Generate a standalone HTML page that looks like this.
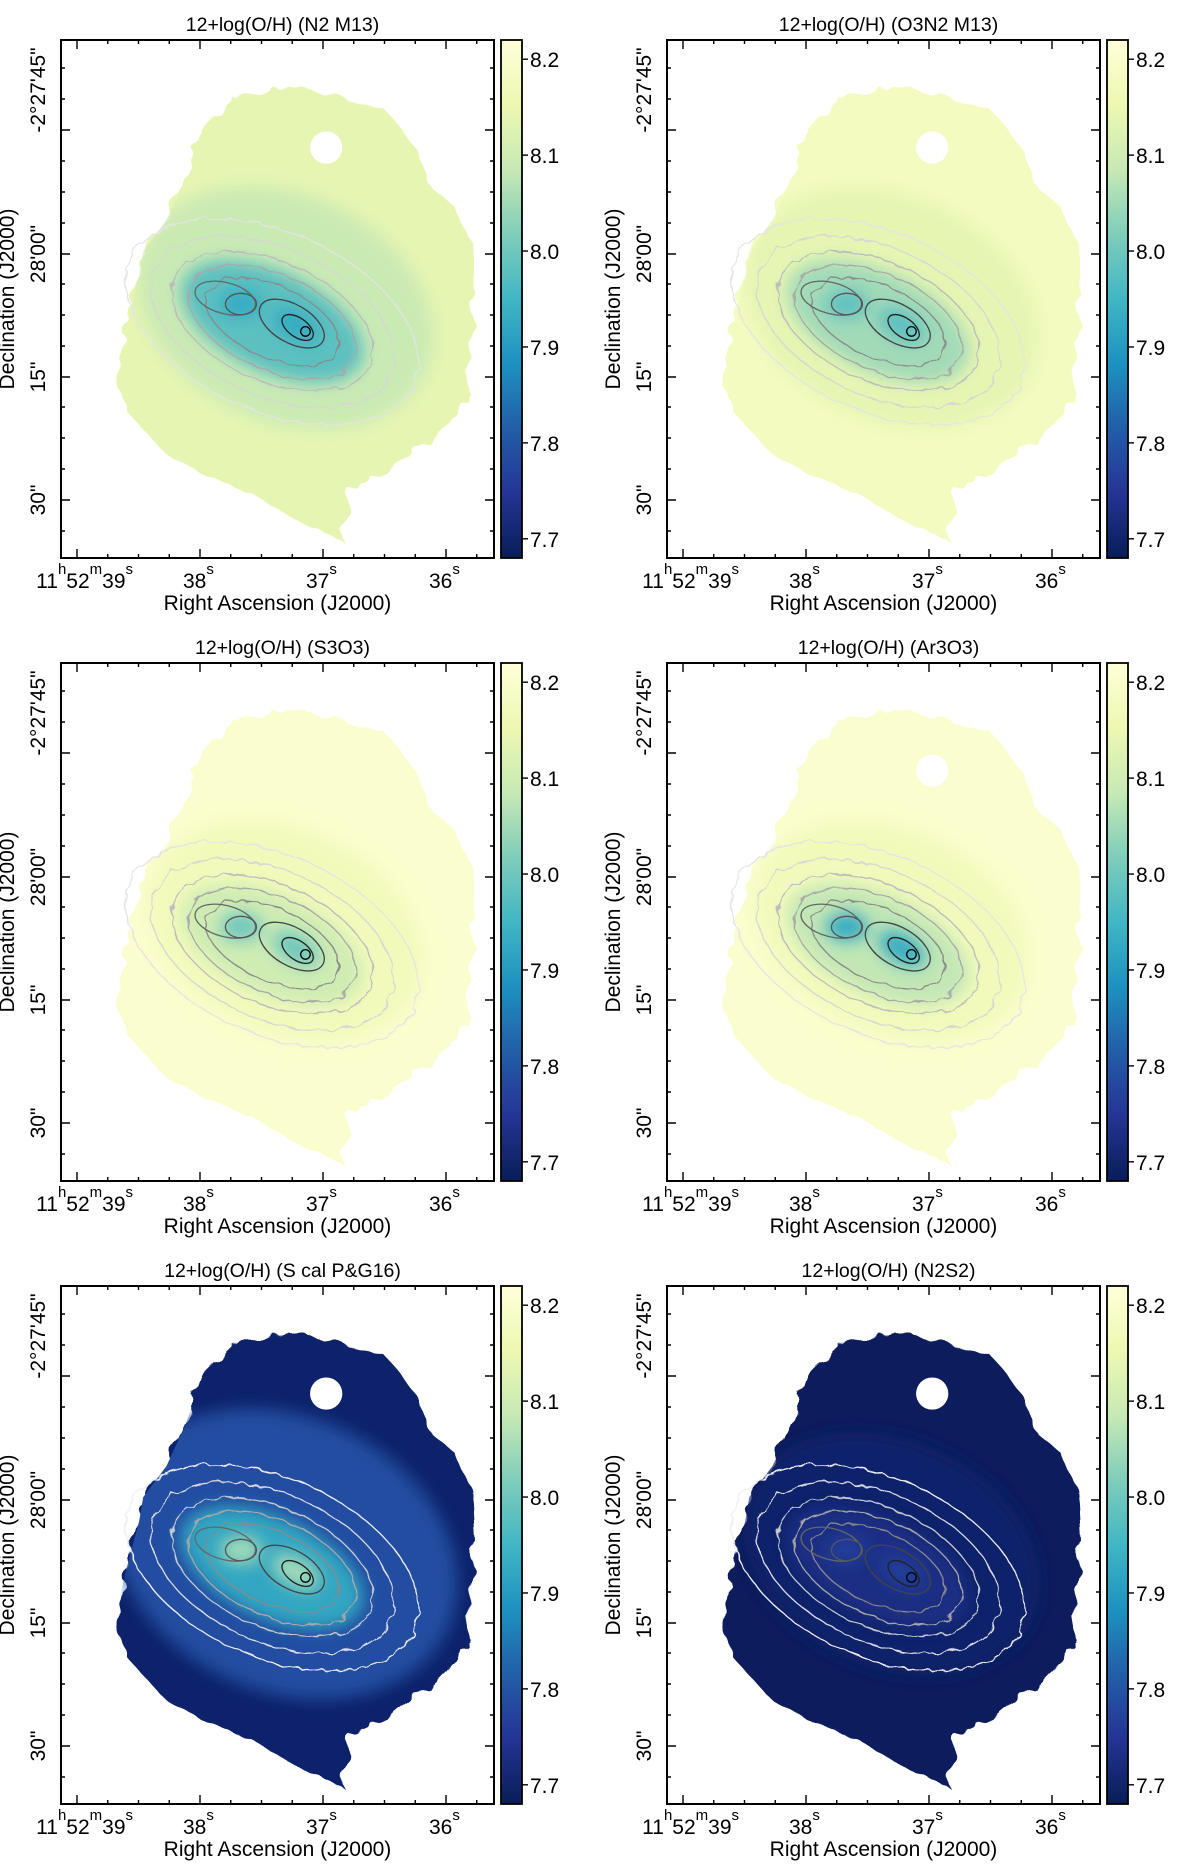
<!DOCTYPE html>
<html><head><meta charset="utf-8">
<style>
html,body{margin:0;padding:0;background:#fff;}
svg{display:block;font-family:"Liberation Sans",Arial,sans-serif;}
</style></head>
<body>
<svg id="fig" width="1200" height="1865" viewBox="0 0 1200 1865" xmlns="http://www.w3.org/2000/svg">
<defs>
<linearGradient id="cmap" x1="0" y1="1" x2="0" y2="0">
<stop offset="0" stop-color="#081d58"/><stop offset="0.125" stop-color="#253494"/><stop offset="0.25" stop-color="#225ea8"/><stop offset="0.375" stop-color="#1d91c0"/><stop offset="0.5" stop-color="#41b6c4"/><stop offset="0.625" stop-color="#7fcdbb"/><stop offset="0.75" stop-color="#c7e9b4"/><stop offset="0.875" stop-color="#edf8b1"/><stop offset="1" stop-color="#ffffd9"/>
</linearGradient>
<filter id="rough" x="-20%" y="-20%" width="140%" height="140%">
<feTurbulence type="fractalNoise" baseFrequency="0.06" numOctaves="2" seed="3"/>
<feDisplacementMap in="SourceGraphic" scale="14"/>
</filter>
<filter id="soft" x="-60%" y="-60%" width="220%" height="220%"><feGaussianBlur stdDeviation="7"/></filter>
<filter id="wig" x="-20%" y="-20%" width="140%" height="140%"><feTurbulence type="fractalNoise" baseFrequency="0.09" numOctaves="2" seed="7"/><feDisplacementMap in="SourceGraphic" scale="7"/></filter>
</defs>
</svg>
<script>
// ---- data ----
const panelTitles = ["12+log(O/H) (N2 M13)","12+log(O/H) (O3N2 M13)","12+log(O/H) (S3O3)","12+log(O/H) (Ar3O3)","12+log(O/H) (S cal P&G16)","12+log(O/H) (N2S2)"];
const outerVals = [8.14, 8.18, 8.20, 8.20, 7.70, 7.685];
const midVals   = [8.09, 8.14, 8.17, 8.17, 7.79, 7.70];
const innerVals = [7.98, 8.05, 8.10, 8.08, 7.92, 7.73];
const coreVals  = [7.93, 7.98, 8.00, 7.93, 8.05, 7.76];
const cbTicks = [8.2, 8.1, 8.0, 7.9, 7.8, 7.7];
const cbMin = 7.680, cbMax = 8.220;
const raLabels = [["11","h","52","m","39","s"],["38","s"],["37","s"],["36","s"]];
const decLabels = ["-2°27'45\"", "28'00\"", "15\"", "30\""];

// ---- layout ----
const NS = "http://www.w3.org/2000/svg";
const svg = document.getElementById('fig');
const colX = [61, 667], rowY = [40, 663, 1286];
const W = 433, H = 518, S = 1.193;
const xTicks = [16, 139, 262, 385], yTicks = [90, 214, 337, 460];
const midSize = [[130,95],[130,95],[120,85],[120,85],[150,115],[130,95]];
const stops = [[0,"#081d58"],[0.125,"#253494"],[0.25,"#225ea8"],[0.375,"#1d91c0"],[0.5,"#41b6c4"],[0.625,"#7fcdbb"],[0.75,"#c7e9b4"],[0.875,"#edf8b1"],[1,"#ffffd9"]];
function hex(h){return [1,3,5].map(i=>parseInt(h.substr(i,2),16));}
function cmap(v){
  let t=(v-cbMin)/(cbMax-cbMin); t=Math.max(0,Math.min(1,t));
  for(let i=1;i<stops.length;i++){ if(t<=stops[i][0]){ const a=hex(stops[i-1][1]),b=hex(stops[i][1]); const f=(t-stops[i-1][0])/(stops[i][0]-stops[i-1][0]); return "rgb("+a.map((c,k)=>Math.round(c+(b[k]-c)*f)).join(",")+")"; } }
  return stops[8][1];
}
function cbY(v){return (cbMax-v)/(cbMax-cbMin)*H;}
function el(tag, attrs, parent){const e=document.createElementNS(NS,tag); for(const k in attrs) e.setAttribute(k,attrs[k]); (parent||svg).appendChild(e); return e;}
const zx = z => (z-160)/3.05, zy = z => (z-100)/3.05;
const outlineZ = [[520,330],[600,250],[680,230],[800,225],[900,250],[1000,290],[1070,380],[1100,470],[1160,520],[1210,620],[1220,800],[1200,950],[1210,1010],[1130,1100],[1010,1200],[900,1250],[880,1380],[760,1330],[650,1260],[520,1210],[420,1150],[330,1050],[300,950],[320,850],[360,700],[370,640],[430,560],[480,450]];
const outlinePath = "M"+outlineZ.map(p=>zx(p[0]).toFixed(1)+","+zy(p[1]).toFixed(1)).join(" L")+" Z";
const cx = zx(700), cy = zy(820);

for(let p=0;p<6;p++){
  const bx = colX[p%2], by = rowY[Math.floor(p/2)];
  const g = el('g',{transform:`translate(${bx},${by})`});
  
  
  const clipId='clip'+p;
  const cp = el('clipPath',{id:clipId},g); el('rect',{x:0,y:0,width:W,height:H},cp);
  const mapOuter = el('g',{'clip-path':`url(#${clipId})`},g);
  const map = el('g',{transform:`scale(${S})`},mapOuter);
  
  
  const gcp = el('clipPath',{id:'gal'+p},map); el('path',{d:outlinePath},gcp);
  const gal = el('path',{d:outlinePath,fill:cmap(outerVals[p]),filter:'url(#rough)'},map);
  
  
  const inside = el('g',{'clip-path':`url(#gal${p})`},map);
  const ms = midSize[p];
  const mid = el('ellipse',{cx:cx+5,cy:cy-15,rx:ms[0],ry:ms[1],transform:`rotate(25 ${cx} ${cy})`,fill:cmap(midVals[p]),filter:'url(#soft)'},inside);
  
  
  const inn = el('ellipse',{cx:cx,cy:cy,rx:82,ry:42,transform:`rotate(25 ${cx} ${cy})`,fill:cmap(innerVals[p]),filter:'url(#soft)'},inside);
  
  
  const core1 = el('ellipse',{cx:zx(620),cy:zy(775),rx:18,ry:12,fill:cmap(coreVals[p]),filter:'url(#soft)'},inside);
  
  
  const core2 = el('ellipse',{cx:zx(760),cy:zy(830),rx:22,ry:12,transform:`rotate(30 ${zx(760)} ${zy(830)})`,fill:cmap(coreVals[p]),filter:'url(#soft)'},inside);
  
  
  if(p!==2){
    const hole = el('circle',{cx:zx(838),cy:zy(375),r:13.5,fill:'#fff'},map);
    
    
  }
  const light = p>=4;
  const cont = [[130,75,light?'#eeeef4':'#e4e4e4'],[108,62,light?'#dcdce6':'#d6d6d6'],[90,50,light?'#c8c8d0':'#bcbcbc'],[75,40,'#a8a8a8'],[60,30,'#8a8a8a']];
  const cg = el('g',{fill:'none',filter:'url(#wig)'},map);
  
  
  cont.forEach(c=>{ el('ellipse',{cx:cx,cy:cy,rx:c[0],ry:c[1],transform:`rotate(24 ${cx} ${cy})`,stroke:c[2],'stroke-width':1.1},cg); });
  el('ellipse',{cx:zx(580),cy:zy(760),rx:26,ry:13,stroke:'#666','stroke-width':1.1,fill:'none',transform:`rotate(15 ${zx(580)} ${zy(760)})`},map);
  el('ellipse',{cx:zx(620),cy:zy(775),rx:13,ry:9,stroke:'#555','stroke-width':1.1,fill:'none'},map);
  el('ellipse',{cx:zx(750),cy:zy(825),rx:30,ry:16,stroke:'#444','stroke-width':1.1,fill:'none',transform:`rotate(30 ${zx(750)} ${zy(825)})`},map);
  el('ellipse',{cx:zx(765),cy:zy(835),rx:15,ry:8,stroke:'#222','stroke-width':1.1,fill:'none',transform:`rotate(35 ${zx(765)} ${zy(835)})`},map);
  el('circle',{cx:zx(785),cy:zy(845),r:4,stroke:'#000','stroke-width':1.1,fill:'none'},map);
  // frame
  const fr = el('rect',{x:0,y:0,width:W,height:H,fill:'none',stroke:'#000','stroke-width':2},g);
  
  
  // ticks
  let tk='';
  const dx = xTicks[1]-xTicks[0], dy = yTicks[1]-yTicks[0];
  xTicks.forEach((x,i)=>{ tk+=`M${x},${H}v-9M${x},0v9`; if(i<3) for(let k=1;k<4;k++){const m=x+dx*k/4; tk+=`M${m},${H}v-4M${m},0v4`;} });
  tk+=`M${xTicks[3]+dx/4},${H}v-4M${xTicks[3]+dx/4},0v4`;
  yTicks.forEach((y,i)=>{ tk+=`M0,${y}h9M${W},${y}h-9`; for(let k=1;k<4;k++){const m=y-dy*k/4; if(m>0){tk+=`M0,${m}h4M${W},${m}h-4`;}} });
  [yTicks[3]+dy/4].forEach(m=>{tk+=`M0,${m}h4M${W},${m}h-4`;});
  const tp = el('path',{d:tk,stroke:'#000','stroke-width':1.4,fill:'none'},g);
  
  
  // x labels
  raLabels.forEach((lab,i)=>{
    const first = i===0;
    const t = el('text',{x:first?72:xTicks[i]-17,y:H+30,'font-size':21,'text-anchor':first?'end':'start'},g);
    
    
    for(let j=0;j<lab.length;j+=2){
      const a=el('tspan',{dy:j===0?0:14,'font-size':21},t); a.textContent=lab[j];
      const b=el('tspan',{dy:-14,'font-size':15},t); b.textContent=lab[j+1];
    }
  });
  const xt = el('text',{x:W/2,y:H+52,'font-size':21,'text-anchor':'middle'},g);
  xt.textContent='Right Ascension (J2000)';
  
  
  // y labels
  decLabels.forEach((lab,i)=>{
    const yc = i===0 ? 50 : yTicks[i];
    const t = el('text',{x:-16,y:yc,'font-size':21,'text-anchor':'middle',transform:`rotate(-90 -16 ${yc})`},g);
    t.textContent=lab;
    
    
  });
  const yt = el('text',{x:-47,y:H/2,'font-size':21,'text-anchor':'middle',transform:`rotate(-90 -47 ${H/2})`},g);
  yt.textContent='Declination (J2000)';
  
  
  // title
  const tt = el('text',{x:W/2+5,y:-9,'font-size':19.5,'text-anchor':'middle'},g);
  tt.textContent=panelTitles[p];
  
  
  // colorbar
  const cb = el('rect',{x:W+7,y:0,width:21,height:H,fill:'url(#cmap)',stroke:'#000','stroke-width':1.8},g);
  
  
  cbTicks.forEach(v=>{
    const y=cbY(v);
    el('path',{d:`M${W+28},${y}h6`,stroke:'#000','stroke-width':1.4},g);
    const t=el('text',{x:W+36,y:y+8,'font-size':21},g);
    t.textContent=v.toFixed(1);
    
    
  });
}
</script>
</body></html>
